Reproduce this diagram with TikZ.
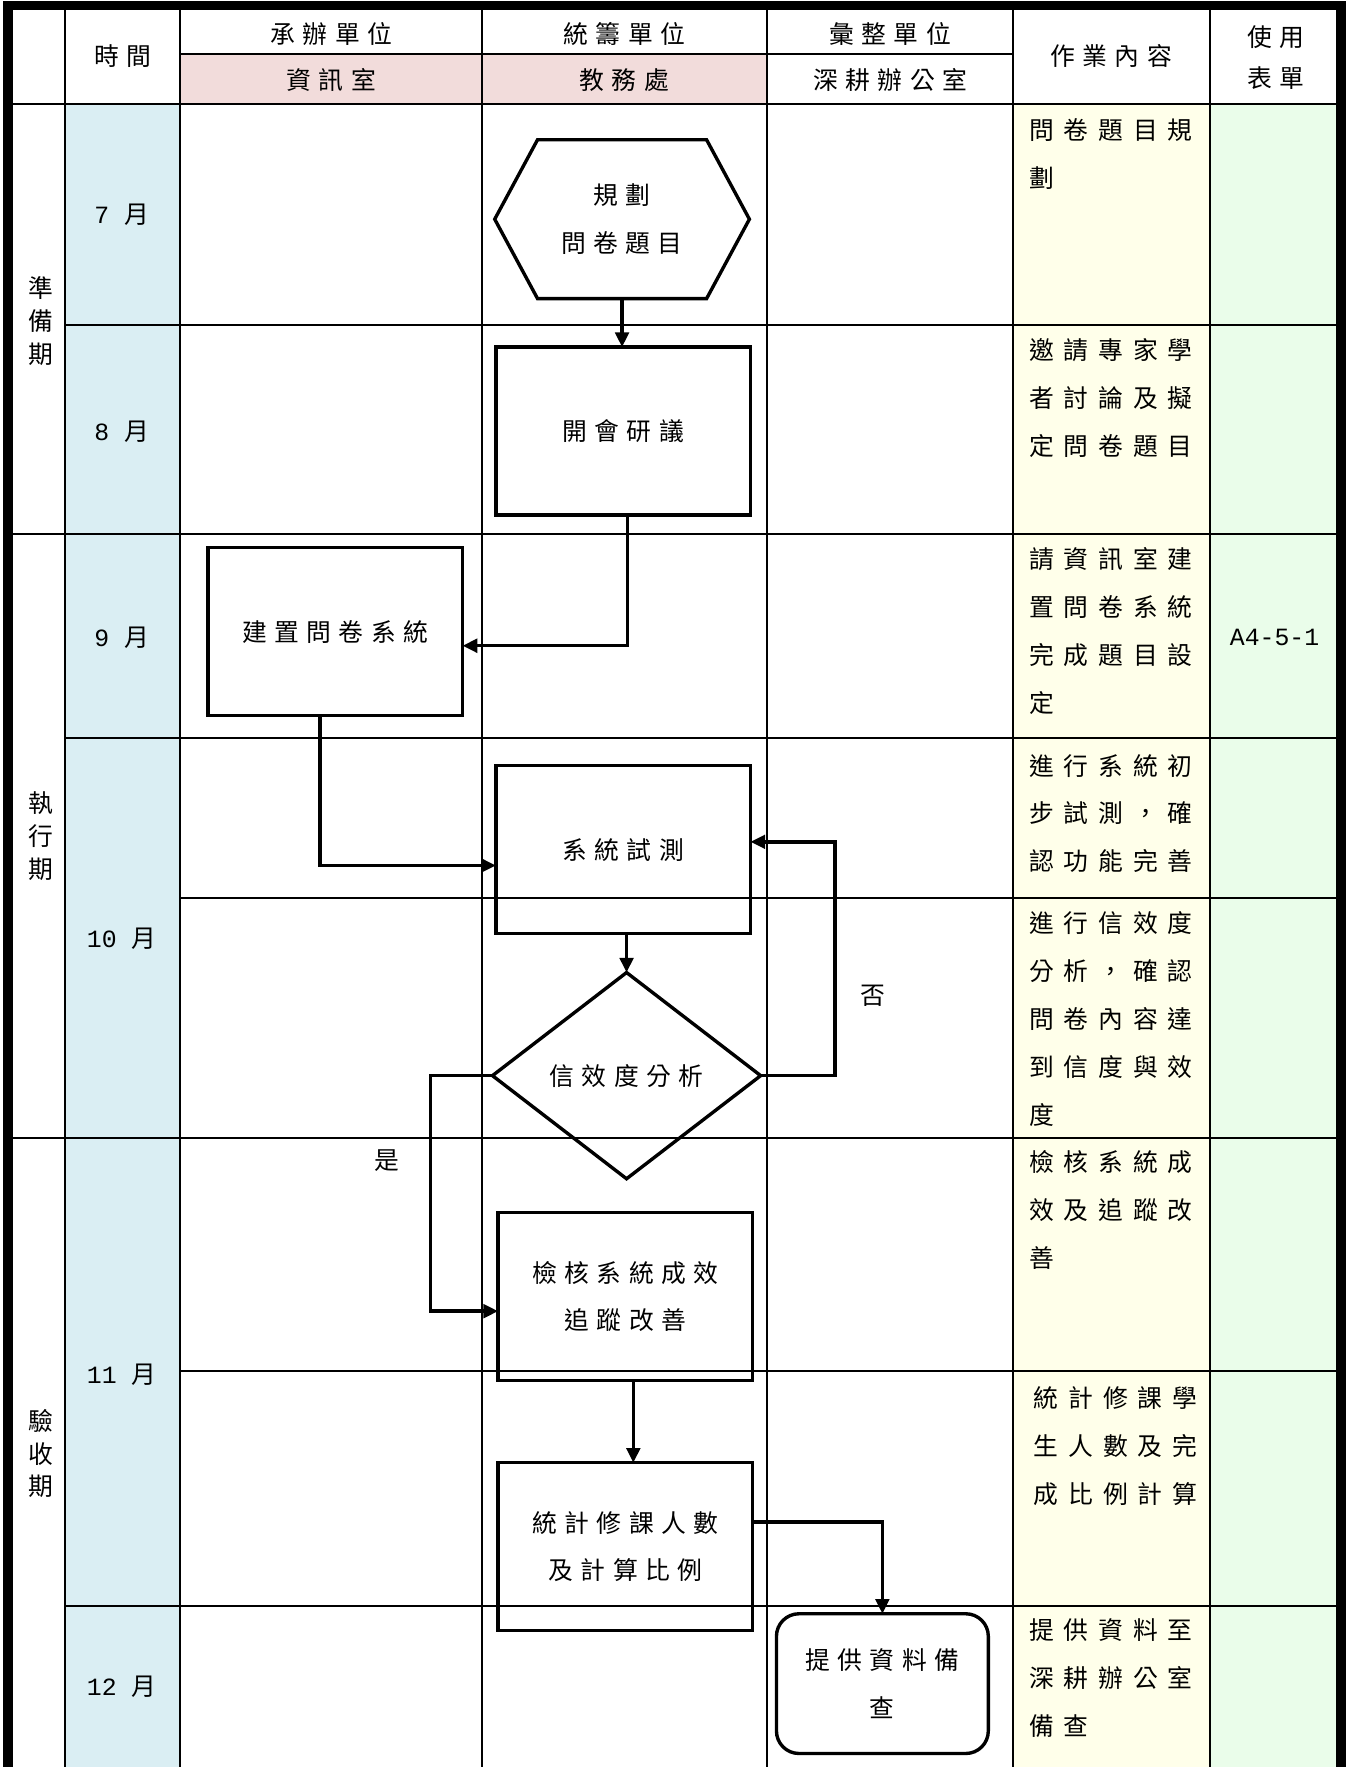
\documentclass[tikz,border=0pt]{standalone}
\usepackage{fontspec}
\setmainfont{Noto Sans CJK TC}
\newfontfamily\flowfont[LetterSpace=30]{Noto Sans CJK TC}
\newfontfamily\colfont[LetterSpace=40]{Noto Sans CJK TC}
\newfontfamily\digitfont{Liberation Mono}
\usetikzlibrary{shapes.geometric,arrows.meta,calc}
\definecolor{timeblue}{HTML}{DAEEF3}
\definecolor{headpink}{HTML}{F2DCDB}
\definecolor{workyellow}{HTML}{FFFFEA}
\definecolor{formgreen}{HTML}{EAFDEA}
\tikzset{
  gridline/.style={line width=1.8pt},
  frameline/.style={line width=8.5pt, line join=miter},
  procbox/.style={draw, line width=3pt, minimum width=226pt, minimum height=149pt, inner sep=0pt, outer sep=0pt, align=center, font={\flowfont\fontsize{22pt}{42pt}\selectfont}},
  hexbox/.style={minimum width=226pt, minimum height=141pt, inner sep=0pt, outer sep=0pt, align=center, font={\flowfont\fontsize{22pt}{42pt}\selectfont}},
  shapeline/.style={line width=3pt, line join=miter},
  decision/.style={diamond, draw, line width=3pt, minimum width=238pt, minimum height=183pt, inner sep=0pt, outer sep=0pt, align=center, font={\flowfont\fontsize{22pt}{42pt}\selectfont}},
  endbox/.style={draw, line width=3pt, rounded corners=20pt, minimum width=188pt, minimum height=124pt, inner sep=0pt, outer sep=0pt, align=center, font={\flowfont\fontsize{22pt}{42pt}\selectfont}},
  flow/.style={line width=3pt, -{Triangle[length=13pt,width=12pt]}},
  headtext/.style={inner sep=0pt, align=center, font={\flowfont\fontsize{22pt}{37pt}\selectfont}},
  worktext/.style={anchor=north west, inner sep=0pt, align=left, font={\colfont\fontsize{22pt}{42.5pt}\selectfont}},
  timetext/.style={inner sep=0pt, font={\fontsize{22pt}{26pt}\selectfont}},
  formtext/.style={inner sep=0pt, font={\digitfont\fontsize{22pt}{26pt}\selectfont}},
  phasetext/.style={inner sep=0pt, align=center, font={\fontsize{22pt}{29pt}\selectfont}},
  labeltext/.style={inner sep=0pt, font={\fontsize{22pt}{26pt}\selectfont}}
}
\begin{document}
\begin{tikzpicture}[x=1pt,y=-1pt]
\useasboundingbox (0,0) rectangle (1196,1568);
% fills
\fill[timeblue] (58,92) rectangle (160,1568);
\fill[headpink] (160,48) rectangle (681,92);
\fill[workyellow] (899,92) rectangle (1074,1568);
\fill[formgreen] (1074,92) rectangle (1190,1568);
% vertical grid
\foreach \x in {58,160,428,681,899,1074} {\draw[gridline] (\x,5) -- (\x,1568);}
% horizontal grid
\draw[gridline] (160,48) -- (899,48);
\draw[gridline] (7,92) -- (1190,92);
\draw[gridline] (58,288) -- (1190,288);
\draw[gridline] (7,474) -- (1190,474);
\draw[gridline] (58,655) -- (1190,655);
\draw[gridline] (160,797) -- (1190,797);
\draw[gridline] (7,1010) -- (1190,1010);
\draw[gridline] (160,1217) -- (1190,1217);
\draw[gridline] (58,1425) -- (1190,1425);
% frame
\draw[frameline] (7,1572) -- (7,5) -- (1190,5) -- (1190,1572);
% header texts
\node[headtext] (hTime) at (109,50) {時間};
\node[headtext] (hUnitA) at (294,30) {承辦單位};
\node[headtext] (hUnitB) at (554,30) {統籌單位};
\node[headtext] (hUnitC) at (790,30) {彙整單位};
\node[headtext] (hOffA) at (294,71) {資訊室};
\node[headtext] (hOffB) at (554,71) {教務處};
\node[headtext] (hOffC) at (790,71) {深耕辦公室};
\node[headtext] (hWork) at (986,50) {作業內容};
\node[headtext] (hForm) at (1132,51) {使用\\表單};
% phase labels
\node[phasetext] (pPrep) at (36,285) {準\\備\\期};
\node[phasetext] (pExec) at (36,742) {執\\行\\期};
\node[phasetext] (pCheck) at (36,1290) {驗\\收\\期};
% time labels
\node[timetext] (t7) at (108,191) {{\digitfont 7 }月};
\node[timetext] (t8) at (108,383) {{\digitfont 8 }月};
\node[timetext] (t9) at (108,566) {{\digitfont 9 }月};
\node[timetext] (t10) at (108,833) {{\digitfont 10 }月};
\node[timetext] (t11) at (108,1220) {{\digitfont 11 }月};
\node[timetext] (t12) at (108,1497) {{\digitfont 12 }月};
% form
\node[formtext] (fA) at (1131,566) {A4-5-1};
% work texts
\node[worktext] (w7) at (913,105) {問卷題目規\\劃};
\node[worktext] (w8) at (913,300) {邀請專家學\\者討論及擬\\定問卷題目};
\node[worktext] (w9) at (913,486) {請資訊室建\\置問卷系統\\完成題目設\\定};
\node[worktext] (w10a) at (913,669) {進行系統初\\步試測，確\\認功能完善};
\node[worktext] (w10b) at (913,809) {進行信效度\\分析，確認\\問卷內容達\\到信度與效\\度};
\node[worktext] (w11a) at (913,1021) {檢核系統成\\效及追蹤改\\善};
\node[worktext] (w11b) at (917,1230) {統計修課學\\生人數及完\\成比例計算};
\node[worktext] (w12) at (913,1436) {提供資料至\\深耕辦公室\\備查};
% flow shapes
\node[hexbox] (plan) at (552,194.5) {規劃\\問卷題目};
\draw[shapeline] (plan.west) -- ($(plan.north west)+(38,0)$) -- ($(plan.north east)+(-38,0)$) -- (plan.east) -- ($(plan.south east)+(-38,0)$) -- ($(plan.south west)+(38,0)$) -- cycle;
\node[procbox] (meet) at (553,382.5) {開會研議};
\node[procbox] (build) at (297.5,560.5) {建置問卷系統};
\node[procbox] (test) at (553,754) {系統試測};
\node[decision] (dia) at (556,954.5) {信效度分析};
\node[procbox] (check) at (555,1150.5) {檢核系統成效\\追蹤改善};
\node[procbox] (stat) at (555,1372.5) {統計修課人數\\及計算比例};
\node[endbox] (provide) at (783,1494) {提供資料備\\查};
% labels
\node[labeltext] (no) at (775,884) {否};
\node[labeltext] (yes) at (343,1030) {是};
% connectors
\draw[flow] (plan.south) -- (plan.south |- meet.north);
\draw[flow] ([xshift=4pt]meet.south) |- ([yshift=-12.5pt]build.east);
\draw[flow] ([xshift=-13.5pt]build.south) |- ([yshift=-14pt]test.west);
\draw[flow] (test.south -| dia.north) -- (dia.north);
\draw[flow] (dia.east) -- ++(66,0) |- ([yshift=7pt]test.east);
\draw[flow] (dia.west) -- ++(-55,0) |- ([yshift=-13pt]check.west);
\draw[flow] ([xshift=7pt]check.south) -- ([xshift=7pt]stat.north);
\draw[flow] ([yshift=22pt]stat.east) -| (provide.north);
\end{tikzpicture}
\end{document}
